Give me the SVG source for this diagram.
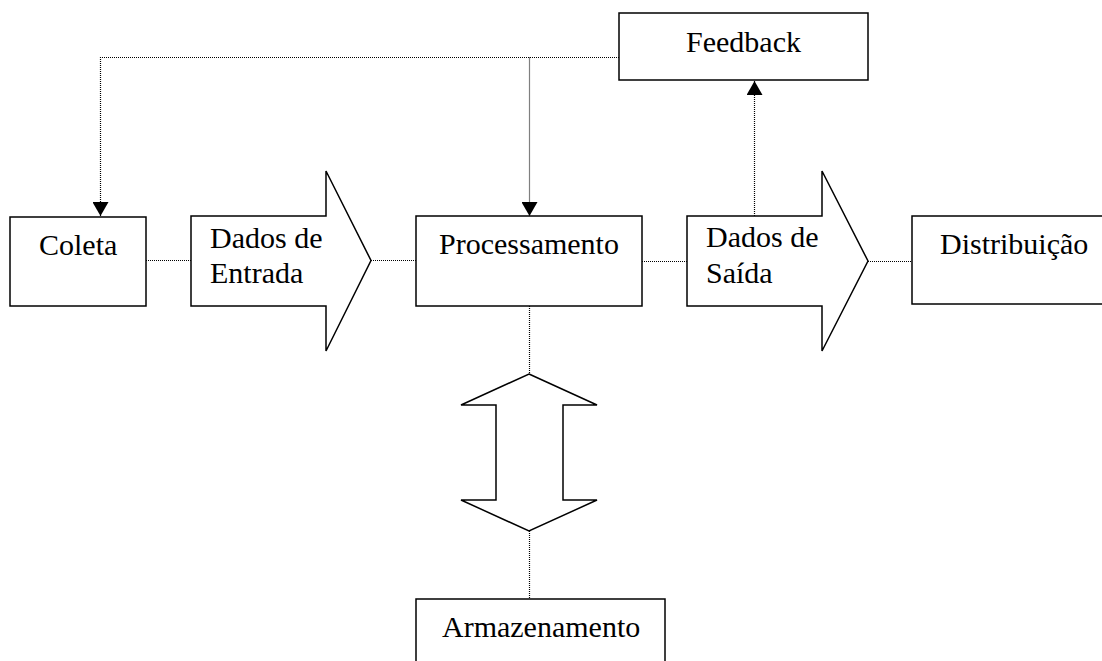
<svg xmlns="http://www.w3.org/2000/svg" width="1102" height="661" viewBox="0 0 1102 661">
<style>
.shape{fill:#fff;stroke:#000;stroke-width:1.5}
.dot{fill:none;stroke:#000;stroke-width:1.2;stroke-dasharray:1 1}
</style>
<defs>
<marker id="ah" viewBox="0 0 14 16" refX="14" refY="8" markerWidth="14" markerHeight="16" markerUnits="userSpaceOnUse" orient="auto">
<path d="M0,0 L14,8 L0,16 z" fill="#000" stroke="none"/>
</marker>
</defs>
<rect width="1102" height="661" fill="#fff"/>
<g id="connectors">
<path class="dot" d="M619,57.5 H100.5 V216" marker-end="url(#ah)"/>
<path class="dot" d="M529.5,57.5 V216" marker-end="url(#ah)"/>
<path class="dot" d="M754.5,216 V81" marker-end="url(#ah)"/>
<path class="dot" d="M146,260.5 H191"/>
<path class="dot" d="M371,260.5 H416"/>
<path class="dot" d="M642,261.5 H687"/>
<path class="dot" d="M868,261.5 H912"/>
<path class="dot" d="M529.5,306 V374"/>
<path class="dot" d="M529.5,531 V599"/>
</g>
<g font-family="'Liberation Serif', serif" font-size="30" fill="#000">
<g id="feedback">
<rect class="shape" x="619" y="13" width="249" height="67"/>
<text x="686" y="52">Feedback</text>
</g>
<g id="coleta">
<rect class="shape" x="10" y="217" width="136" height="89"/>
<text x="39" y="255">Coleta</text>
</g>
<g id="dados-entrada">
<polygon class="shape" points="191,216 326,216 326,171 371,260.5 326,351 326,306 191,306"/>
<text x="210" y="248">Dados de</text>
<text x="210" y="283">Entrada</text>
</g>
<g id="processamento">
<rect class="shape" x="416" y="216" width="226" height="90"/>
<text x="439" y="254">Processamento</text>
</g>
<g id="dados-saida">
<polygon class="shape" points="687,216 822,216 822,171 868,261 822,351 822,306 687,306"/>
<text x="706" y="247">Dados de</text>
<text x="706" y="283">Saída</text>
</g>
<g id="distribuicao">
<rect class="shape" x="912" y="216" width="200" height="88"/>
<text x="940" y="254">Distribuição</text>
</g>
<g id="fluxo-armazenamento">
<polygon class="shape" points="529,374 597,405 563,405 563,500 597,500 529,531 461,500 496,500 496,405 461,405"/>
</g>
<g id="armazenamento">
<rect class="shape" x="416" y="599" width="249" height="80"/>
<text x="442" y="637">Armazenamento</text>
</g>
</g>
</svg>
